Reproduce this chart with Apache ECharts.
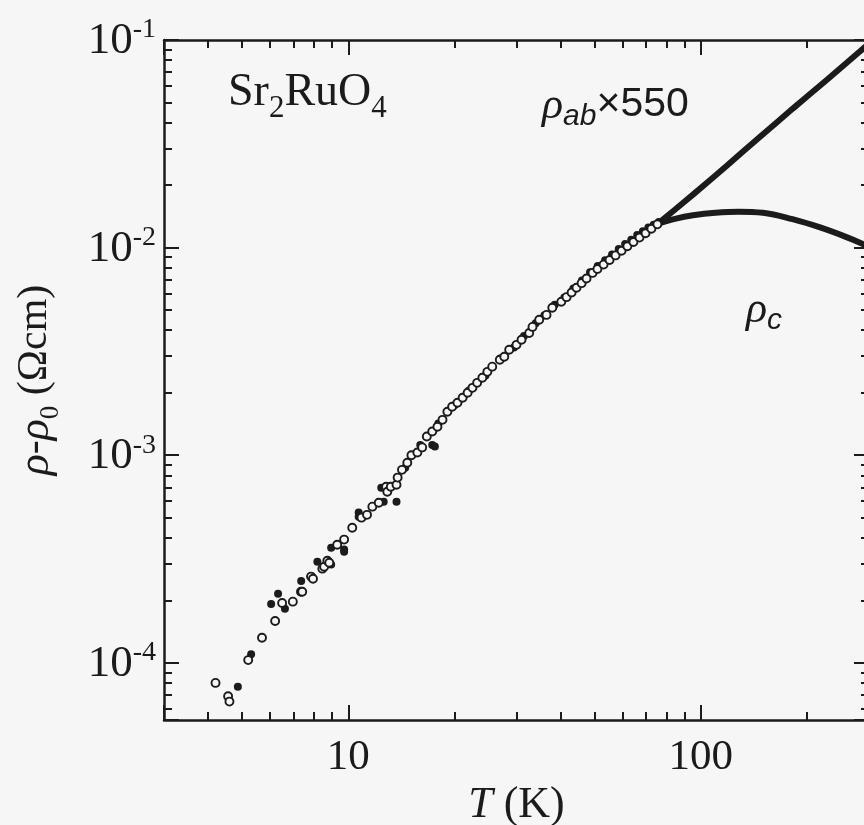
<!DOCTYPE html>
<html>
<head>
<meta charset="utf-8">
<script src="https://cdn.jsdelivr.net/npm/echarts@6/dist/echarts.min.js"></script>
<style>
  html, body { margin: 0; padding: 0; background: #f7f7f7; }
  #chart { width: 864px; height: 825px; }
</style>
</head>
<body>
<div id="chart"></div>
<script>
// rho_ab x 550, open circles (T in K, rho in Ohm cm)
const abT = [4.2, 4.56, 4.6, 5.2, 5.69, 6.2, 6.49, 6.96, 7.34, 7.4, 7.84, 7.94, 8.44, 8.54, 8.72,
  8.83, 9.3, 9.73, 10.26, 10.9, 11.3, 11.7, 12.2, 12.8, 12.9, 13.2, 13.7, 13.8, 14.2, 14.7,
  15.1, 15.7, 16.2, 16.7, 17.3, 17.9, 18.5, 19.1, 19.7, 20.4, 21.1, 21.8, 22.5, 23.2, 24.0,
  24.8, 25.6, 26.9, 27.7, 28.6, 30.0, 31.0, 32.6, 33.3, 34.8, 36.5, 37.9, 40.2, 41.6, 43.0,
  44.4, 45.9, 47.4, 49.3, 50.9, 53.0, 55.1, 57.3, 59.6, 61.9, 64.4, 67.0, 69.7, 72.4, 75.3]
const abRho = [8.0e-5, 6.9e-5, 6.5e-5, 1.03e-4, 1.32e-4, 1.59e-4, 1.94e-4, 1.97e-4, 2.2e-4, 2.2e-4,
  2.6e-4, 2.54e-4, 2.84e-4, 2.9e-4, 3.1e-4, 3.03e-4, 3.7e-4, 3.92e-4, 4.47e-4, 5.0e-4,
  5.16e-4, 5.65e-4, 5.9e-4, 7.05e-4, 6.67e-4, 7.05e-4, 7.2e-4, 7.8e-4, 8.5e-4, 9.2e-4,
  1.0e-3, 1.03e-3, 1.09e-3, 1.23e-3, 1.30e-3, 1.37e-3, 1.48e-3, 1.62e-3, 1.71e-3, 1.79e-3,
  1.89e-3, 2.0e-3, 2.11e-3, 2.23e-3, 2.36e-3, 2.52e-3, 2.67e-3, 2.88e-3, 2.98e-3, 3.22e-3,
  3.40e-3, 3.6e-3, 3.88e-3, 4.15e-3, 4.49e-3, 4.74e-3, 5.13e-3, 5.48e-3, 5.77e-3, 6.08e-3,
  6.40e-3, 6.74e-3, 7.10e-3, 7.55e-3, 7.88e-3, 8.28e-3, 8.71e-3, 9.17e-3, 9.65e-3, 1.015e-2,
  1.064e-2, 1.117e-2, 1.172e-2, 1.233e-2, 1.294e-2]

// rho_c, filled dots
const cT = [4.86, 5.3, 6.04, 6.32, 6.61, 7.35, 8.17, 8.94, 8.94, 9.73, 9.73, 10.7, 10.7, 12.4, 12.6,
  13.7, 14.5, 16.0, 17.3, 17.6, 18.0, 20.0, 22.0, 24.5, 27.0, 29.5, 31.5, 34.0, 36.0, 38.5,
  41.0, 43.5, 46.0, 48.5, 51.0, 53.5, 56.0, 58.5, 61.0, 63.5, 66.0, 68.5, 71.0, 73.5, 76.0]
const cRho = [7.66e-5, 1.10e-4, 1.92e-4, 2.15e-4, 1.82e-4, 2.48e-4, 3.07e-4, 2.97e-4, 3.58e-4, 3.43e-4,
  3.51e-4, 5.05e-4, 5.3e-4, 6.97e-4, 5.97e-4, 5.97e-4, 8.7e-4, 1.12e-3, 1.12e-3, 1.1e-3,
  1.42e-3, 1.74e-3, 2.05e-3, 2.42e-3, 2.92e-3, 3.30e-3, 3.75e-3, 4.32e-3, 4.72e-3, 5.30e-3,
  5.75e-3, 6.35e-3, 6.95e-3, 7.60e-3, 8.15e-3, 8.70e-3, 9.25e-3, 9.85e-3, 1.04e-2, 1.09e-2,
  1.15e-2, 1.20e-2, 1.25e-2, 1.29e-2, 1.33e-2]

// dense high-temperature data, drawn as thick curves
const abLineT = [75, 95, 118.5, 147, 182, 228, 283, 300]
const abLineRho = [0.0129, 0.0180, 0.0248, 0.0341, 0.0466, 0.0644, 0.0882, 0.0961]
const cLineT = [75, 85, 95, 110, 128, 150, 182, 218, 260, 300]
const cLineRho = [0.0130, 0.0138, 0.0143, 0.0147, 0.01488, 0.0147, 0.0137, 0.0125, 0.0112, 0.0101]

// axis ranges and minor tick positions
const xRange = [3, 300]
const yRange = [5.3e-5, 0.1]
const xMinorTicks = [4, 5, 6, 7, 8, 9, 20, 30, 40, 50, 60, 70, 80, 90, 200]
const yMinorTicks = [6e-5, 7e-5, 8e-5, 9e-5,
  2e-4, 3e-4, 4e-4, 5e-4, 6e-4, 7e-4, 8e-4, 9e-4,
  2e-3, 3e-3, 4e-3, 5e-3, 6e-3, 7e-3, 8e-3, 9e-3,
  2e-2, 3e-2, 4e-2, 5e-2, 6e-2, 7e-2, 8e-2, 9e-2]

const ink = '#1b1b1b'
const paper = '#f6f6f6'
const serif = 'Liberation Serif'
const sans = 'Liberation Sans'

const zip = (a, b) => a.map((v, i) => [v, b[i]])
const isDecade = v => Math.abs(Math.log10(v) - Math.round(Math.log10(v))) < 1e-6

const chart = echarts.init(document.getElementById('chart'))

const lineStyle = { color: ink, width: 2.5 }
const majorTick = { show: true, inside: true, length: 15, lineStyle: { color: ink, width: 2 } }

// log axes carry the data and the decade ticks
const logX = (pos, labels) => ({
  type: 'log', logBase: 10, min: xRange[0], max: xRange[1], position: pos,
  axisLine: { show: true, lineStyle },
  axisTick: majorTick,
  splitLine: { show: false },
  axisLabel: {
    show: labels, margin: 16, color: ink, fontFamily: serif, fontSize: 43,
    formatter: v => isDecade(v) ? String(Math.round(v)) : ''
  }
})
const logY = (pos, labels) => ({
  type: 'log', logBase: 10, min: yRange[0], max: yRange[1], position: pos,
  axisLine: { show: true, lineStyle },
  axisTick: majorTick,
  splitLine: { show: false },
  axisLabel: {
    show: labels, margin: 8, color: ink,
    formatter: v => isDecade(v) ? '{b|10}{s|' + Math.round(Math.log10(v)) + '}' : '',
    rich: {
      b: { fontFamily: serif, fontSize: 45, lineHeight: 48, verticalAlign: 'bottom', color: ink },
      s: { fontFamily: serif, fontSize: 28, lineHeight: 28, verticalAlign: 'top', color: ink }
    }
  }
})
// linear axes in log10 space, only to place the 2..9 minor ticks
const minorX = pos => ({
  type: 'value', min: Math.log10(xRange[0]), max: Math.log10(xRange[1]), position: pos,
  axisLine: { show: false }, splitLine: { show: false }, axisLabel: { show: false },
  axisTick: { show: true, inside: true, length: 8, customValues: xMinorTicks.map(Math.log10),
    lineStyle: { color: ink, width: 2 } }
})
const minorY = pos => ({
  type: 'value', min: Math.log10(yRange[0]), max: Math.log10(yRange[1]), position: pos,
  axisLine: { show: false }, splitLine: { show: false }, axisLabel: { show: false },
  axisTick: { show: true, inside: true, length: 8, customValues: yMinorTicks.map(Math.log10),
    lineStyle: { color: ink, width: 2 } }
})

const xMain = logX('bottom', true)
xMain.name = '{i|T}{n| (K)}'
xMain.nameLocation = 'middle'
xMain.nameGap = 62
xMain.nameTextStyle = {
  rich: {
    i: { fontFamily: serif, fontStyle: 'italic', fontSize: 44, color: ink },
    n: { fontFamily: serif, fontSize: 44, color: ink }
  }
}
const yMain = logY('left', true)
yMain.name = '{i|ρ}{n|-}{i|ρ}{sub|0}{n| (Ωcm)}'
yMain.nameLocation = 'middle'
yMain.nameGap = 100
yMain.nameTextStyle = {
  rich: {
    i: { fontFamily: serif, fontStyle: 'italic', fontSize: 44, lineHeight: 50, verticalAlign: 'top', color: ink },
    n: { fontFamily: serif, fontSize: 42, lineHeight: 50, verticalAlign: 'top', color: ink },
    sub: { fontFamily: serif, fontSize: 27, lineHeight: 24, verticalAlign: 'bottom', color: ink }
  }
}

const option = {
  backgroundColor: paper,
  animation: false,
  grid: { left: 164, top: 40, width: 705, height: 680, outerBoundsMode: 'none' },
  xAxis: [xMain, logX('top', false), minorX('bottom'), minorX('top')],
  yAxis: [yMain, logY('right', false), minorY('left'), minorY('right')],
  graphic: [
    {
      type: 'text', left: 228, top: 70,
      style: {
        text: '{n|Sr}{s|2}{n|RuO}{s|4}', fill: ink,
        rich: {
          n: { fontFamily: serif, fontSize: 46, lineHeight: 54, verticalAlign: 'top', fill: ink },
          s: { fontFamily: serif, fontSize: 31, lineHeight: 24, verticalAlign: 'bottom', fill: ink }
        }
      }
    },
    {
      type: 'text', left: 542, top: 84,
      style: {
        text: '{i|ρ}{sub|ab}{n|×550}', fill: ink,
        rich: {
          i: { fontFamily: serif, fontStyle: 'italic', fontSize: 44, lineHeight: 48, verticalAlign: 'top', fill: ink },
          sub: { fontFamily: sans, fontStyle: 'italic', fontSize: 30, lineHeight: 22, verticalAlign: 'bottom', fill: ink },
          n: { fontFamily: sans, fontSize: 41, lineHeight: 48, verticalAlign: 'top', fill: ink }
        }
      }
    },
    {
      type: 'text', left: 746, top: 288,
      style: {
        text: '{i|ρ}{sub|c}', fill: ink,
        rich: {
          i: { fontFamily: serif, fontStyle: 'italic', fontSize: 44, lineHeight: 48, verticalAlign: 'top', fill: ink },
          sub: { fontFamily: sans, fontStyle: 'italic', fontSize: 30, lineHeight: 22, verticalAlign: 'bottom', fill: ink }
        }
      }
    }
  ],
  series: [
    {
      name: 'rho_c line', type: 'line', data: zip(cLineT, cLineRho),
      smooth: 0.4, showSymbol: false, symbol: 'none',
      lineStyle: { color: ink, width: 6 }, z: 3
    },
    {
      name: 'rho_ab line', type: 'line', data: zip(abLineT, abLineRho),
      smooth: 0.2, showSymbol: false, symbol: 'none',
      lineStyle: { color: ink, width: 6 }, z: 3
    },
    {
      name: 'rho_c', type: 'scatter', data: zip(cT, cRho),
      symbol: 'circle', symbolSize: 8,
      itemStyle: { color: ink, opacity: 1 }, z: 4
    },
    {
      name: 'rho_ab x 550', type: 'scatter', data: zip(abT, abRho),
      symbol: 'circle', symbolSize: 8,
      itemStyle: { color: paper, borderColor: ink, borderWidth: 1.9, opacity: 1 }, z: 5
    }
  ]
}

chart.setOption(option)
</script>
</body>
</html>
